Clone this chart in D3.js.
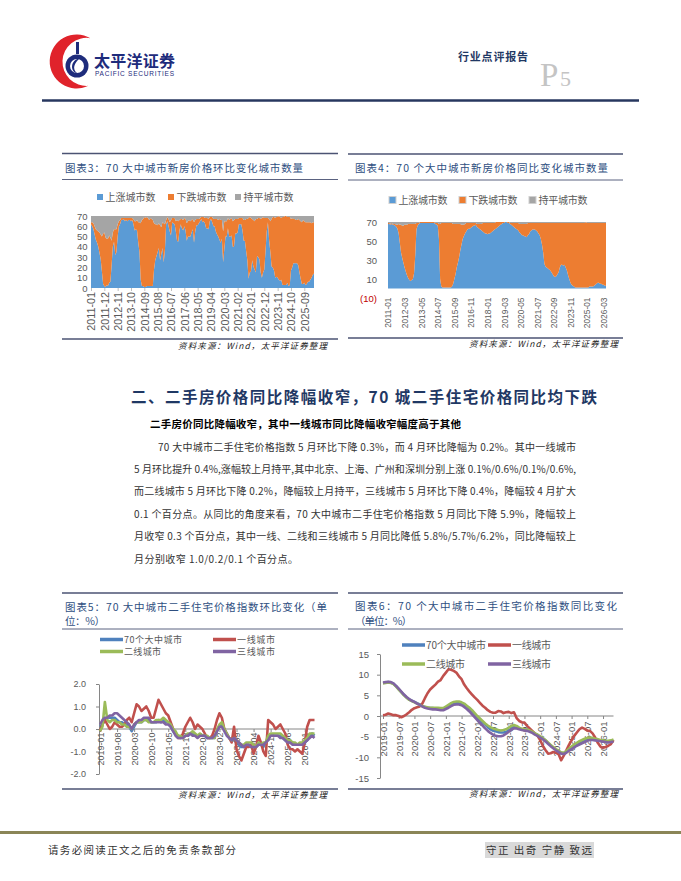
<!DOCTYPE html>
<html>
<head>
<meta charset="utf-8">
<script src="https://cdn.jsdelivr.net/npm/d3@7/dist/d3.min.js"></script>
<style>
body { margin: 0; background: #fff; }
svg { display: block; }
</style>
</head>
<body>
<svg id="page" width="681" height="881"></svg>
<script>
var CJK = '"Noto Sans CJK SC", sans-serif';
var NUM = '"Liberation Sans", Arial, sans-serif';

// ---------- data ----------
var legend34 = ["上涨城市数", "下跌城市数", "持平城市数"];
var colors34 = ["#5b9bd5", "#ed7d31", "#a5a5a5"];

// chart 3: new home prices, month-on-month, number of cities (2011-01 .. 2026-05)
var up3 = [
62,60,57,52,47,44,40,34,28,16,4,2,
1,3,2,5,6,22,40,45,32,35,50,60,
62,66,66,67,65,66,65,66,66,65,66,62,
56,57,56,44,35,8,2,2,1,1,2,2,
2,2,2,2,18,27,31,35,39,27,33,39,
25,37,62,65,60,55,51,64,63,62,55,46,
45,56,62,58,56,60,56,46,50,50,50,54,
57,44,55,61,61,63,65,67,64,65,63,58,
58,57,65,67,64,60,60,55,52,50,47,44,
48,25,38,50,50,58,50,50,51,40,40,53,
53,54,62,62,62,56,46,46,36,27,9,15,
16,27,21,18,15,31,30,28,15,10,15,18,
36,55,64,46,35,21,20,17,10,11,10,8,
7,8,3,3,3,3,5,2,3,17,20,24,
24,24,24,22,15,9,4,4,5,3,4,6,
6,8,10,13,14];
var down3 = [
2,4,6,8,10,12,15,20,24,34,49,52,
48,45,46,46,43,24,14,12,25,22,12,5,
4,2,2,1,3,2,3,2,2,3,2,5,
9,8,10,20,29,55,64,65,68,67,67,66,
64,66,65,64,45,35,31,26,24,34,26,25,
38,25,4,4,7,9,15,4,5,6,10,20,
20,10,5,9,10,8,11,17,15,16,15,12,
10,20,11,6,6,4,3,2,5,4,5,10,
10,10,4,2,5,7,7,12,15,16,20,22,
18,30,27,15,15,10,16,17,17,25,26,14,
14,13,6,6,6,12,20,20,31,40,59,54,
52,40,45,47,52,36,38,40,52,58,54,50,
32,13,4,21,30,46,49,52,58,58,59,62,
62,60,66,66,67,67,64,67,66,50,48,43,
43,42,42,45,51,56,60,62,60,61,60,58,
58,56,53,51,50];
var flat3 = [
6,6,7,10,13,14,15,16,18,20,17,16,
21,22,22,19,21,24,16,13,13,13,8,5,
4,2,2,2,2,2,2,2,2,2,2,3,
5,5,4,6,6,7,4,3,1,2,1,2,
4,2,3,4,7,8,8,9,7,9,11,6,
7,8,4,1,3,6,4,2,2,2,5,4,
5,4,3,3,4,2,3,7,5,4,5,4,
3,6,4,3,3,3,2,1,1,1,2,2,
2,3,1,1,1,3,3,3,3,4,3,4,
4,15,5,5,5,2,4,3,2,5,4,3,
3,3,2,2,2,2,4,4,3,3,2,1,
2,3,4,5,3,3,2,2,3,2,1,2,
2,2,2,3,5,3,1,1,2,1,1,0,
1,2,1,1,0,0,1,1,1,3,2,3,
3,4,4,3,4,5,6,4,5,6,6,6,
6,6,7,6,6];
var ticks3 = ["2011-01","2011-12","2012-11","2013-10","2014-09","2015-08","2016-07","2017-06",
  "2018-05","2019-04","2020-03","2021-02","2022-01","2022-12","2023-11","2024-10","2025-09"];
var yTicks3 = [0, 10, 20, 30, 40, 50, 60, 70];

// chart 4: new home prices, year-on-year, number of cities (2011-01 .. 2026-05)
var up4 = [
68,68,67,68,67,67,66,65,63,58,48,38,
32,27,22,18,14,11,9,8,9,10,16,35,
62,66,68,69,69,69,69,69,69,69,69,69,
69,69,69,69,68,67,66,52,10,2,1,1,
1,1,1,1,1,1,2,5,10,15,22,27,
33,40,46,52,55,58,60,62,63,63,64,65,
66,66,67,65,64,63,62,61,60,59,58,58,
57,58,58,59,60,61,62,63,64,65,66,67,
68,69,69,70,70,69,69,68,67,66,65,64,
63,62,61,59,58,56,56,55,55,54,56,57,
60,61,62,62,62,61,60,58,56,52,46,38,
26,23,22,21,20,19,17,15,13,12,13,15,
17,22,25,25,24,25,22,19,14,10,6,4,
3,2,1,1,1,1,1,1,1,1,1,1,
1,1,2,2,2,2,3,4,5,6,6,5,
5,4,4,3,3];
var down4 = [
1,1,1,1,1,1,2,2,4,10,19,29,
34,39,45,49,53,57,59,60,59,58,52,33,
7,3,1,1,1,1,1,1,1,1,1,1,
1,1,1,1,1,2,3,16,58,67,68,68,
68,68,68,68,68,68,67,63,58,53,46,41,
35,28,21,15,12,10,9,7,6,6,5,4,
3,3,2,3,4,5,6,7,9,10,11,11,
12,11,11,10,9,8,7,7,6,5,4,3,
2,1,1,0,0,1,1,1,2,3,4,5,
6,7,8,9,10,12,12,13,13,14,13,12,
9,8,7,7,7,8,9,11,13,17,23,31,
43,46,47,48,49,50,52,54,56,57,56,54,
52,47,44,44,45,44,47,50,55,59,63,65,
66,67,68,68,68,68,68,68,68,68,68,69,
68,68,67,67,67,67,66,65,64,63,63,64,
64,65,65,66,66];
var flat4 = [
1,1,2,1,2,2,2,3,3,2,3,3,
4,4,3,3,3,2,2,2,2,2,2,2,
1,1,1,0,0,0,0,0,0,0,0,0,
0,0,0,0,1,1,1,2,2,1,1,1,
1,1,1,1,1,1,1,2,2,2,2,2,
2,2,3,3,3,2,1,1,1,1,1,1,
1,1,1,2,2,2,2,2,1,1,1,1,
1,1,1,1,1,1,1,0,0,0,0,0,
0,0,0,0,0,0,0,1,1,1,1,1,
1,1,1,2,2,2,2,2,2,2,1,1,
1,1,1,1,1,1,1,1,1,1,1,1,
1,1,1,1,1,1,1,1,1,1,1,1,
1,1,1,1,1,1,1,1,1,1,1,1,
1,1,1,1,1,1,1,1,1,1,1,0,
1,1,1,1,1,1,1,1,1,1,1,1,
1,1,1,1,1];
var ticks4 = ["2011-01","2012-03","2013-05","2014-07","2015-09","2016-11","2018-01",
  "2019-03","2020-05","2021-07","2022-09","2023-11","2025-01","2026-03"];
var yTicks4 = [-10, 10, 30, 50, 70];

// charts 5 & 6: second-hand home price index, % (2019-01 .. 2026-05)
var legend56 = ["70个大中城市", "一线城市", "二线城市", "三线城市"];
var colors56 = ["#4f81bd", "#c0504d", "#9bbb59", "#8064a2"];

var mom70 = [
0.1,0.2,0.4,0.5,0.5,0.5,0.5,0.4,0.3,0.3,0.2,0.2,
0.1,-0.1,0.1,0.3,0.3,0.3,0.4,0.4,0.4,0.3,0.3,0.3,
0.4,0.3,0.4,0.3,0.3,0.1,-0.1,-0.2,-0.3,-0.4,-0.4,-0.3,
-0.3,-0.2,-0.2,-0.3,-0.3,-0.3,-0.3,-0.3,-0.4,-0.4,-0.4,-0.4,
-0.1,0.1,0.2,0.0,-0.2,-0.4,-0.5,-0.5,-0.6,-0.7,-0.8,-0.8,
-0.7,-0.7,-0.8,-0.8,-0.8,-0.7,-0.7,-0.8,-0.6,-0.4,-0.3,-0.3,
-0.3,-0.3,-0.3,-0.4,-0.5,-0.6,-0.6,-0.6,-0.7,-0.7,-0.7,-0.7,
-0.6,-0.5,-0.3,-0.2,-0.3];
var momT1 = [
-0.1,0.2,0.4,0.2,0.0,0.1,0.3,0.2,0.1,0.1,0.2,0.4,
0.5,0.3,0.7,1.1,1.0,0.8,0.9,1.0,0.8,0.5,0.5,0.9,
1.3,1.1,0.9,0.7,0.6,0.3,0.0,-0.2,-0.4,-0.4,-0.2,0.1,
0.3,0.5,0.3,0.0,0.2,0.1,0.0,-0.2,-0.4,-0.4,-0.3,0.0,
0.4,0.7,0.5,0.0,-0.2,-0.4,-0.6,0.1,-0.9,-1.2,-1.4,-1.1,
-0.8,-0.8,-0.7,-1.1,-0.8,-0.3,-0.6,-1.0,-1.2,0.4,0.3,0.2,
0.0,0.1,0.2,0.0,-0.2,-0.7,-0.9,-0.9,-1.0,-0.9,-1.0,-1.1,
-0.6,0.1,0.4,0.4,0.4];
var momT2 = [
-0.1,0.1,1.2,0.4,0.3,0.4,0.4,0.3,0.3,0.2,0.2,0.1,
0.1,0.0,0.2,0.3,0.3,0.3,0.4,0.4,0.3,0.3,0.3,0.4,
0.4,0.4,0.5,0.4,0.3,0.2,0.0,-0.1,-0.3,-0.3,-0.4,-0.3,
-0.2,-0.2,-0.1,-0.2,-0.3,-0.2,-0.3,-0.3,-0.3,-0.4,-0.4,-0.4,
0.0,0.2,0.3,0.0,-0.2,-0.4,-0.5,-0.4,-0.5,-0.6,-0.7,-0.7,
-0.6,-0.6,-0.6,-0.7,-0.8,-0.6,-0.7,-0.6,-0.6,-0.3,-0.2,-0.2,
-0.2,-0.2,-0.2,-0.3,-0.4,-0.5,-0.5,-0.6,-0.6,-0.7,-0.6,-0.6,
-0.5,-0.4,-0.2,-0.2,-0.2];
var momT3 = [
0.2,0.4,0.5,0.5,0.6,0.6,0.7,0.7,0.6,0.5,0.4,0.3,
0.2,0.0,0.2,0.3,0.4,0.4,0.5,0.5,0.5,0.3,0.3,0.3,
0.3,0.3,0.3,0.2,0.2,0.1,-0.1,-0.3,-0.4,-0.4,-0.4,-0.3,
-0.3,-0.2,-0.3,-0.3,-0.4,-0.3,-0.3,-0.3,-0.4,-0.4,-0.4,-0.3,
-0.1,0.1,0.1,-0.1,-0.3,-0.4,-0.5,-0.4,-0.5,-0.6,-0.7,-0.8,
-0.7,-0.7,-0.8,-0.8,-0.8,-0.7,-0.7,-0.7,-0.6,-0.5,-0.3,-0.3,
-0.3,-0.3,-0.4,-0.4,-0.5,-0.6,-0.6,-0.7,-0.7,-0.7,-0.7,-0.7,
-0.6,-0.5,-0.4,-0.3,-0.4];
var ticks5 = ["2019-01","2019-08","2020-03","2020-10","2021-05","2021-12","2022-07",
  "2023-02","2023-09","2024-04","2024-11","2025-06","2026-01"];
var yTicks5 = [-2, -1, 0, 1, 2];

var yoy70 = [
8.0,8.1,8.2,8.1,7.8,7.2,6.5,5.8,5.1,4.5,4.0,3.7,
3.4,3.1,2.8,2.4,2.2,2.0,1.9,1.9,1.8,1.8,1.7,1.6,
2.0,2.3,2.7,3.0,3.2,3.2,3.1,2.8,2.3,1.8,1.1,0.4,
-0.3,-0.9,-1.5,-2.1,-2.7,-3.2,-3.5,-3.7,-3.9,-4.0,-4.0,-3.9,
-3.5,-3.0,-2.6,-2.7,-3.0,-3.2,-3.3,-3.4,-3.6,-3.9,-4.3,-4.6,
-5.0,-5.4,-5.9,-6.5,-7.1,-7.6,-8.1,-8.5,-8.9,-9.0,-8.7,-8.2,
-7.8,-7.4,-7.0,-6.7,-6.3,-6.0,-5.8,-5.6,-5.6,-5.7,-5.8,-6.0,
-6.1,-6.2,-6.3,-6.2,-5.9];
var yoyT1 = [
0.2,0.3,0.6,0.4,0.2,0.2,0.0,-0.3,0.0,0.4,0.9,1.5,
1.9,2.1,2.3,3.0,4.3,5.5,6.4,7.0,7.6,8.3,8.7,9.7,
10.5,11.3,11.2,10.9,10.5,9.6,8.9,7.6,6.7,5.9,5.2,4.5,
3.9,3.2,2.5,2.0,1.4,1.0,0.8,0.8,1.2,1.1,0.7,0.9,
1.0,0.7,0.9,-0.5,-1.2,-1.5,-1.6,-2.4,-3.0,-3.6,-4.2,-4.8,
-5.8,-7.2,-8.2,-9.1,-9.0,-8.7,-8.9,-9.2,-10.7,-9.6,-8.3,-7.0,
-5.9,-4.8,-4.0,-3.2,-2.8,-3.1,-3.5,-3.6,-4.2,-5.2,-6.5,-7.4,
-7.7,-7.5,-7.2,-6.8,-5.8];
var yoyT2 = [
7.9,8.0,8.1,8.0,7.7,7.1,6.4,5.7,5.0,4.4,3.9,3.6,
3.3,3.0,2.7,2.4,2.2,2.1,2.0,2.0,2.0,2.0,1.9,1.9,
2.3,2.7,3.1,3.4,3.5,3.5,3.3,3.0,2.5,2.0,1.4,0.7,
0.0,-0.6,-1.2,-1.8,-2.3,-2.7,-3.0,-3.2,-3.4,-3.5,-3.4,-3.2,
-2.8,-2.4,-2.2,-2.4,-2.8,-3.1,-3.2,-3.3,-3.5,-3.8,-4.2,-4.5,
-4.9,-5.3,-5.8,-6.4,-7.0,-7.5,-8.0,-8.4,-8.8,-8.9,-8.5,-7.9,
-7.4,-6.9,-6.5,-6.1,-5.8,-5.5,-5.3,-5.2,-5.3,-5.5,-5.6,-5.8,
-5.9,-6.0,-6.0,-5.9,-5.7];
var yoyT3 = [
8.1,8.2,8.3,8.2,7.9,7.3,6.6,5.9,5.2,4.6,4.1,3.7,
3.4,3.0,2.7,2.3,2.0,1.8,1.7,1.6,1.6,1.5,1.4,1.4,
1.7,2.0,2.4,2.7,2.8,2.8,2.6,2.2,1.7,1.1,0.4,-0.3,
-1.0,-1.7,-2.3,-3.0,-3.6,-4.1,-4.5,-4.8,-4.9,-4.9,-4.7,-4.3,
-3.8,-3.3,-3.0,-3.0,-3.2,-3.4,-3.5,-3.6,-3.8,-4.1,-4.5,-4.8,
-5.2,-5.6,-6.1,-6.7,-7.3,-7.8,-8.3,-8.7,-9.1,-9.2,-8.9,-8.4,
-8.0,-7.6,-7.2,-6.9,-6.6,-6.3,-6.0,-5.8,-5.8,-5.9,-6.0,-6.1,
-6.2,-6.3,-6.4,-6.3,-6.2];
var ticks6 = ["2019-01","2019-07","2020-01","2020-07","2021-01","2021-07","2022-01","2022-07",
  "2023-01","2023-07","2024-01","2024-07","2025-01","2025-07","2026-01"];
var yTicks6 = [-15, -10, -5, 0, 5, 10, 15];

var paraLines = [
  "70 大中城市二手住宅价格指数 5 月环比下降 0.3%，而 4 月环比降幅为 0.2%。其中一线城市",
  "5 月环比提升 0.4%,涨幅较上月持平,其中北京、上海、广州和深圳分别上涨 0.1%/0.6%/0.1%/0.6%,",
  "而二线城市 5 月环比下降 0.2%，降幅较上月持平，三线城市 5 月环比下降 0.4%，降幅较 4 月扩大",
  "0.1 个百分点。从同比的角度来看，70 大中城市二手住宅价格指数 5 月同比下降 5.9%，降幅较上",
  "月收窄 0.3 个百分点，其中一线、二线和三线城市 5 月同比降低 5.8%/5.7%/6.2%，同比降幅较上",
  "月分别收窄 1.0/0.2/0.1 个百分点。"
];

// ---------- helpers ----------
var svg = d3.select("#page");
svg.append("rect").attr("width", 681).attr("height", 881).attr("fill", "#fff");

function monthList(y0, n) {
	var out = [];
	for (var i = 0; i < n; i++) {
		var yy = y0 + Math.floor(i / 12), mm = i % 12 + 1;
		out.push(yy + "-" + (mm < 10 ? "0" + mm : mm));
	}
	return out;
}

function txt(x, y, s, size, opt) {
	opt = opt || {};
	var t = svg.append("text")
		.attr("x", x)
		.attr("y", y)
		.attr("dy", "0.35em")
		.attr("font-size", size)
		.attr("font-family", opt.family || CJK)
		.attr("fill", opt.fill || "#333")
		.text(s);
	if (opt.weight) t.attr("font-weight", opt.weight);
	if (opt.anchor) t.attr("text-anchor", opt.anchor);
	if (opt.italic) t.attr("font-style", "italic");
	if (opt.len) t.attr("textLength", opt.len).attr("lengthAdjust", "spacing");
	return t;
}

function hline(x0, x1, y, color, w) {
	svg.append("line")
		.attr("x1", x0).attr("x2", x1)
		.attr("y1", y).attr("y2", y)
		.attr("stroke", color)
		.attr("stroke-width", w);
}

// frame round each chart: rules, title, source line
function panel(x0, x1, top, titles, rule, bottom, srcY, srcRight) {
	hline(x0, x1, top, "#4b5373", 1.5);
	titles.forEach(function(t) {
		txt(t.x, t.y, t.s, 10.5, {fill: "#2f4f7f", len: t.len});
	});
	hline(x0, x1, rule, "#5a6280", 1);
	hline(x0, x1, bottom, "#4b5373", 1.5);
	txt(srcRight, srcY, "资料来源：Wind，太平洋证券整理", 8.5,
		{anchor: "end", italic: true, len: 149, fill: "#222"});
}

function stackChart(o) {
	var months = monthList(2011, o.up.length);
	var x = d3.scalePoint().domain(months).range(o.xr);
	var y = d3.scaleLinear().domain(o.yd).range(o.yr);
	var rows = months.map(function(m, i) {
		return {m: m, up: o.up[i], down: o.down[i], flat: o.flat[i]};
	});
	var series = d3.stack().keys(["up", "down", "flat"])(rows);
	var area = d3.area()
		.x(function(d) { return x(d.data.m); })
		.y0(function(d) { return y(d[0]); })
		.y1(function(d) { return y(d[1]); });
	svg.append("g").selectAll("path")
		.data(series)
		.join("path")
		.attr("d", area)
		.attr("fill", function(d, i) { return colors34[i]; });

	var ya = svg.append("g")
		.attr("transform", "translate(" + o.yLabelX + ",0)")
		.call(d3.axisLeft(y).tickValues(o.yTicks).tickSize(0).tickPadding(0).tickFormat(o.fmt));
	ya.select(".domain").remove();
	ya.selectAll("text")
		.attr("font-family", NUM)
		.attr("font-size", o.yFont)
		.attr("fill", function(d) { return d < 0 ? "#c00000" : "#595959"; });

	var xa = svg.append("g")
		.attr("transform", "translate(0," + y(0) + ")")
		.call(d3.axisBottom(x).tickValues(o.ticks).tickSize(o.tick).tickSizeOuter(0));
	xa.select(".domain").remove();
	xa.selectAll("line").attr("stroke", "#bfbfbf");
	xa.selectAll("text")
		.attr("transform", "rotate(-90)")
		.attr("x", -o.gap).attr("y", 0).attr("dy", "0.35em")
		.attr("text-anchor", "end")
		.attr("font-family", NUM)
		.attr("font-size", o.xFont)
		.attr("fill", "#595959");

	legend34.forEach(function(name, i) {
		svg.append("rect")
			.attr("x", o.legX[i]).attr("y", o.legY - o.sq / 2)
			.attr("width", o.sq).attr("height", o.sq)
			.attr("fill", colors34[i])
			.attr("stroke", o.sqStroke ? "#d0d0d0" : "none");
		txt(o.legX[i] + o.sq + 2.5, o.legY, name, 10, {fill: "#595959", len: o.legLen});
	});
}

function lineChart(o) {
	var months = monthList(2019, o.series[0].length);
	var x = d3.scalePoint().domain(months).range(o.xr);
	var y = d3.scaleLinear().domain(o.yd).range(o.yr);

	var ya = svg.append("g")
		.attr("transform", "translate(" + o.axisX + ",0)")
		.call(d3.axisLeft(y).tickValues(o.yTicks).tickSize(3).tickSizeOuter(0)
			.tickPadding(o.yPad).tickFormat(o.fmt));
	ya.selectAll("path, line").attr("stroke", "#868686");
	ya.selectAll("text").attr("font-family", NUM).attr("font-size", o.yFont).attr("fill", "#595959");

	var xa = svg.append("g")
		.attr("transform", "translate(0," + y(0) + ")")
		.call(d3.axisBottom(x).tickValues(o.ticks).tickSize(3).tickSizeOuter(0));
	xa.select(".domain").attr("d", "M" + o.axisX + ",0H" + o.xr[1]);
	xa.selectAll("path, line").attr("stroke", "#868686");
	xa.selectAll("text")
		.attr("transform", "rotate(-90)")
		.attr("x", -o.gap).attr("y", 0).attr("dy", "0.35em")
		.attr("text-anchor", "end")
		.attr("font-family", NUM)
		.attr("font-size", o.xFont)
		.attr("fill", "#595959");

	var line = d3.line()
		.x(function(d, i) { return x(months[i]); })
		.y(function(d) { return y(d); });
	o.series.forEach(function(s, i) {
		svg.append("path")
			.attr("d", line(s))
			.attr("fill", "none")
			.attr("stroke", colors56[i])
			.attr("stroke-width", 2.6)
			.attr("stroke-linejoin", "round");
	});

	o.leg.forEach(function(p, i) {
		svg.append("line")
			.attr("x1", p[0]).attr("x2", p[0] + 23)
			.attr("y1", p[1]).attr("y2", p[1])
			.attr("stroke", colors56[i])
			.attr("stroke-width", 3.5);
		txt(p[0] + 24, p[1], legend56[i], o.legFont, {fill: "#595959", len: p[2]});
	});
}

// ---------- header ----------
svg.append("path")
	.attr("d", "M90.4,38.2 A27,27 0 1,0 88.4,85.8 A24,24 0 1,1 90.4,38.2 Z")
	.attr("fill", "#e0232b");
svg.append("circle").attr("cx", 77).attr("cy", 66).attr("r", 11.5).attr("fill", "#1e2c7c");
svg.append("circle").attr("cx", 77).attr("cy", 66).attr("r", 7).attr("fill", "#fff");
svg.append("path")
	.attr("d", "M80,58 C70,60 70,72 77,73 C72,69 74,63 80,58 Z")
	.attr("fill", "#1e2c7c");
svg.append("rect").attr("x", 76).attr("y", 42).attr("width", 3).attr("height", 12).attr("fill", "#1e2c7c");
txt(94, 61, "太平洋证券", 16, {weight: "bold", fill: "#1e2c7c", len: 81});
txt(95, 74, "PACIFIC SECURITIES", 6.5, {family: NUM, fill: "#1e2c7c", len: 79});
txt(458, 57, "行业点评报告", 11, {weight: "bold", fill: "#1f3864", len: 70});
svg.append("text").attr("x", 540).attr("y", 86)
	.attr("font-family", '"Liberation Serif", serif').attr("font-size", 33)
	.attr("fill", "#c4c4c4").text("P");
svg.append("text").attr("x", 560).attr("y", 86)
	.attr("font-family", '"Liberation Serif", serif').attr("font-size", 22)
	.attr("fill", "#c4c4c4").text("5");
hline(42, 639, 100.5, "#27375f", 2.5);

// ---------- chart 3 ----------
panel(62, 338, 153.5,
	[{x: 65, y: 168, s: "图表3：70 大中城市新房价格环比变化城市数量", len: 238}],
	179.5, 339, 346, 327);
stackChart({
	up: up3, down: down3, flat: flat3,
	xr: [91, 314], yd: [0, 70], yr: [288, 216],
	yTicks: yTicks3, fmt: function(d) { return d; }, yLabelX: 87.5, yFont: 9.5,
	ticks: ticks3, tick: 3, gap: 4, xFont: 10.8,
	legX: [97, 168, 235], legY: 197, sq: 6, legLen: 50
});

// ---------- chart 4 ----------
panel(348, 623, 154,
	[{x: 355, y: 168, s: "图表4：70 个大中城市新房价格同比变化城市数量", len: 253}],
	180, 338, 344.5, 618);
stackChart({
	up: up4, down: down4, flat: flat4,
	xr: [388, 606], yd: [-10, 70], yr: [298, 222],
	yTicks: yTicks4, fmt: function(d) { return d < 0 ? "(" + Math.abs(d) + ")" : d; },
	yLabelX: 377, yFont: 9.5,
	ticks: ticks4, tick: 0, gap: 9, xFont: 8.4,
	legX: [389, 459, 529], legY: 200, sq: 7, sqStroke: true, legLen: 49
});

// ---------- text section ----------
txt(131, 398, "二、二手房价格同比降幅收窄，70 城二手住宅价格同比均下跌", 15.5,
	{weight: "bold", fill: "#1f3864", len: 466});
txt(150, 424, "二手房价同比降幅收窄，其中一线城市同比降幅收窄幅度高于其他", 10.5,
	{weight: "bold", fill: "#000", len: 311});
paraLines.forEach(function(s, i) {
	var x0 = i === 0 ? 158 : 134;
	var opt = {fill: "#333"};
	if (i < paraLines.length - 1) opt.len = 576 - x0;
	else opt.len = 164;
	txt(x0, 447 + i * 22.4, s, 10, opt);
});

// ---------- chart 5 ----------
panel(62, 338, 593,
	[{x: 65, y: 607, s: "图表5：70 大中城市二手住宅价格指数环比变化（单", len: 262},
	 {x: 65, y: 621, s: "位：%）", len: 40}],
	629, 789, 795, 327);
lineChart({
	series: [mom70, momT1, momT2, momT3],
	xr: [100, 314.5], yd: [-2, 2], yr: [774, 684], axisX: 99,
	yTicks: yTicks5, fmt: function(d) { return d.toFixed(1); }, yPad: 10, yFont: 9,
	ticks: ticks5, gap: 3.5, xFont: 9,
	leg: [[100, 639.5, 58], [213, 639.5, 38], [100, 651.5, 37], [213, 651.5, 38]], legFont: 9
});

// ---------- chart 6 ----------
panel(348, 623, 593,
	[{x: 355, y: 606, s: "图表6：70 个大中城市二手住宅价格指数同比变化", len: 262},
	 {x: 355, y: 621, s: "（单位：%）", len: 57}],
	629, 789, 794, 618);
lineChart({
	series: [yoy70, yoyT1, yoyT2, yoyT3],
	xr: [383, 613.5], yd: [-15, 15], yr: [778, 654], axisX: 380,
	yTicks: yTicks6, fmt: function(d) { return d; }, yPad: 8, yFont: 9.5,
	ticks: ticks6, gap: 5.5, xFont: 9.5,
	leg: [[402, 645, 60], [488, 645, 39], [402, 664, 39], [488, 664, 39]], legFont: 10
});

// ---------- footer ----------
hline(0, 681, 832.5, "#8a8557", 3);
txt(48, 850, "请务必阅读正文之后的免责条款部分", 10.5, {fill: "#333", len: 188});
svg.append("rect").attr("x", 485).attr("y", 842).attr("width", 109).attr("height", 16).attr("fill", "#d9d9d9");
txt(486, 850, "守正 出奇 宁静 致远", 10.5, {fill: "#333", len: 106});
</script>
</body>
</html>
